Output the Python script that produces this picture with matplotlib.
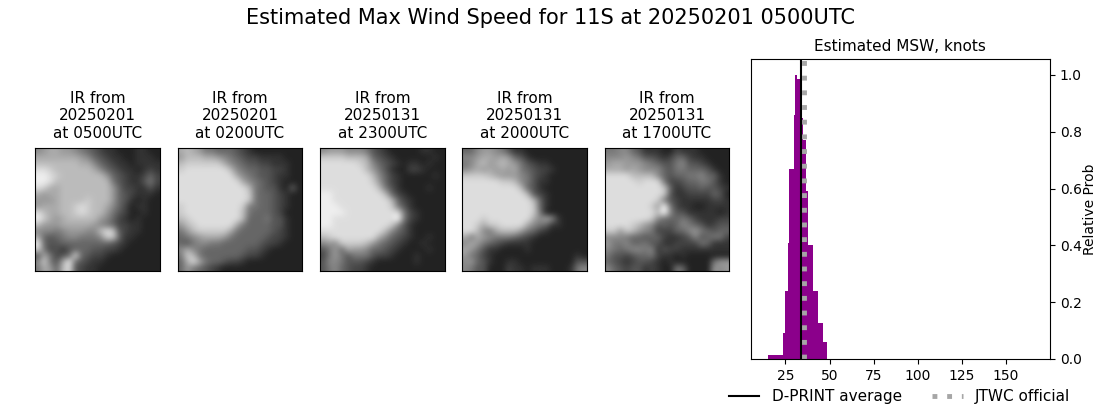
import numpy as np
import matplotlib
matplotlib.use("Agg")
import matplotlib.pyplot as plt

W, H = 1100, 409

suptitle = "Estimated Max Wind Speed for 11S at 20250201 0500UTC"
panel_dates = ["20250201", "20250201", "20250131", "20250131", "20250131"]
panel_times = ["0500UTC", "0200UTC", "2300UTC", "2000UTC", "1700UTC"]

bin_edges = [15, 23.4, 24.5, 26.2, 27.3, 29.6, 30.7, 31.8, 33, 34.1, 34.7, 36.4, 38, 40.9, 43.7, 46.5, 48.8]
bin_probs = [0.015, 0.09, 0.24, 0.41, 0.67, 0.86, 1.0, 0.985, 0.9, 0.85, 0.77, 0.59, 0.40, 0.24, 0.125, 0.06]
dprint_avg = 33.9
jtwc_official = 35.5
xtick_values = [25, 50, 75, 100, 125, 150]
ytick_values = [0.0, 0.2, 0.4, 0.6, 0.8, 1.0]

# IR brightness on a coarse grid, one hex digit per cell (0 dark, f bright)
ir1 = ["89aa9987654332223322", "aaaaaaa9865433223332", "bbbbbbbaa86543323333", "ddcbbbbbba8654332343",
       "eedcbbbbbbb965433464", "eedbbbbbbbbb75433574", "dcaabbbbbbbb96443353", "a9aabbbbbbbb96543332",
       "999abbbbcbbb96532322", "9aaabbcdcbba86423322", "dbaabbcdcbb975422322", "eca9abbbbb9864323222",
       "b999aaaaa98764433222", "8887899988bdc5433222", "a6567887778cc6332222", "e6556666666654322222",
       "c7453566655443222222", "5a7456d6544322222222", "8c75ae65433222222222", "7a96bd54332222222222"]
ir2 = ["aba97766654322222222", "9bbbaa98765443333222", "bcccccca876554433322", "cdddddddb87665544322",
       "ddddddddda8765543322", "dddddddddda876543222", "dddddddddddb76553262", "dddddddddddc76654322",
       "dddddddddddc76654322", "cdddddddddc776654322", "cdddddddddb766654222", "bcddddddddb666755322",
       "9bcdddddda7666655322", "79bccccca76666654322", "6789aaa9766666544322", "65788776666665443222",
       "8a876666666554322222", "7cb76666665443222222", "6ada7665443222222222", "69765432222222222222"]
ir3 = ["89998887543222223322", "ccccbbba654322222232", "ddddddcb865432332322", "dddddddb975322443222",
       "ddddddddb86432222232", "ddddddddc96432222222", "dddddddddb7532222322", "eeddddddddb643222222",
       "eedddddddddb64322222", "eeeddddddddc75322222", "eeeeddddddddd7432222", "eeddddddddddf7432222",
       "eedddddddddc85322222", "ddddddddddb865322222", "bcddddddda8654322322", "898ccccb976543223222",
       "5796a998665432222322", "47975777544322232222", "58875554322222232222", "57865443222222222222"]
ir4 = ["66899875332222222222", "889aa9a9653222222222", "78ab9aba975433222222", "89a9a9a9a76544322222",
       "ccccba99987543222222", "ddddddccb87533222222", "dddddddddb6532222222", "ddddddddddb543222222",
       "dddddddddddb63222222", "dddddddddddc63222222", "dddddddddddc72222222", "dddcddddddda8a832222",
       "ddcaccdddda876332222", "ddb87abbb97643222222", "a7a98777654322222222", "8a976543333222222222",
       "a9753322223222222222", "97643222222222222232", "89653223322222222255", "87552224332333222378"]
ir5 = ["77886533322433322222", "88898755434664332222", "9aa99987655785543222", "aaa9a988865776665322",
       "ddddbbbb865667786632", "dddddcddd74456677532", "dddddddddc6345565543", "dddddddddc5334444652",
       "ddddddddc75433333443", "dddddddc9f7433223333", "ddddddddbf8553333323", "dddddddc866676433344",
       "ddddcb98565687653455", "cc9cb987444668976566", "88876656643345856774", "97786675533444476333",
       "87678878354433333333", "75545667433232222222", "65434554323222222799", "86545534322762222989"]
ir_panels = [ir1, ir2, ir3, ir4, ir5]

panel_px = [(35, 160), (178, 302), (320, 445), (462, 587), (605, 729)]
img_top, img_bot = 148, 271


def axes_from_px(fig, x0, x1, top, bot):
    return fig.add_axes([x0 / W, 1 - bot / H, (x1 - x0) / W, (bot - top) / H])


def to_grid(rows):
    return np.array([[int(c, 16) / 15 for c in r] for r in rows])


fig = plt.figure(figsize=(W / 100, H / 100), dpi=100)
fig.text(550 / W, 1 - 18.5 / H, suptitle, fontsize=15, ha="center", va="center")

for (x0, x1), rows, d, t in zip(panel_px, ir_panels, panel_dates, panel_times):
    ax = axes_from_px(fig, x0, x1, img_top, img_bot)
    ax.imshow(to_grid(rows), cmap="gray", vmin=0, vmax=1, aspect="auto", interpolation="bicubic")
    ax.set_xticks([])
    ax.set_yticks([])
    ax.set_title(f"IR from\n{d}\nat {t}", fontsize=11, pad=7.5)

ax = axes_from_px(fig, 750.5, 1050, 59, 359)
edges = np.array(bin_edges)
ax.bar(edges[:-1], bin_probs, width=np.diff(edges), align="edge", color="darkmagenta", linewidth=0)
l1 = ax.axvline(dprint_avg, color="black", linewidth=1.5)
l2 = ax.axvline(jtwc_official, color="#a6a6a6", linewidth=3.5, linestyle=(0, (1, 2.02)))
ax.set_xlim(5.2, 175)
ax.set_ylim(0, 1.056)
ax.set_xticks(xtick_values)
ax.set_yticks(ytick_values)
ax.yaxis.tick_right()
ax.yaxis.set_label_position("right")
ax.set_ylabel("Relative Prob", fontsize=10, labelpad=1)
ax.set_title("Estimated MSW, knots", fontsize=11, pad=6)
ax.tick_params(labelsize=10)

fig.legend([l1, l2], ["D-PRINT average", "JTWC official"], ncol=2, fontsize=11, frameon=False,
           loc="center", bbox_to_anchor=(899.5 / W, 1 - 397 / H), columnspacing=2.0)

fig.savefig("out.png", dpi=100)
